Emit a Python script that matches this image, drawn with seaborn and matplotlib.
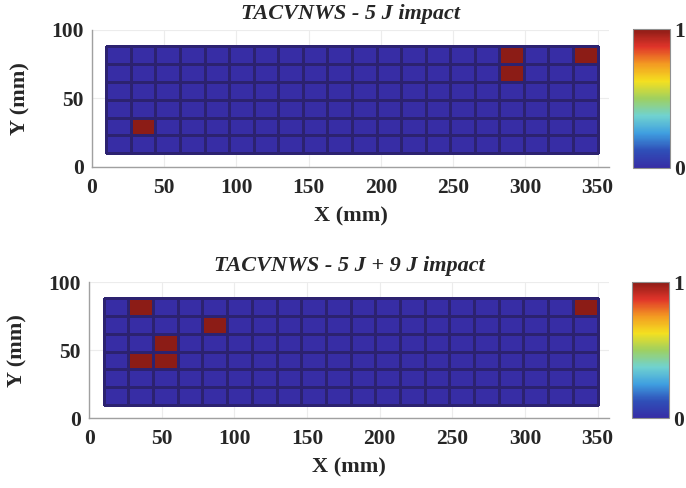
import numpy as np
import matplotlib
matplotlib.use("Agg")
import matplotlib.pyplot as plt
import seaborn as sns

# grid of the panel (mm)
x_edges = [10, 27, 44, 61, 78, 95, 112, 129, 146, 163, 180, 197, 214, 231,
           248, 265, 282, 299, 316, 333, 350]
y_edges = [10, 23, 36, 49, 62, 75, 88]

# damage state per cell, rows listed from top (y=88) to bottom (y=10)
damage_5J = [
    [0, 0, 0, 0, 0, 0, 0, 0, 0, 0, 0, 0, 0, 0, 0, 0, 1, 0, 0, 1],
    [0, 0, 0, 0, 0, 0, 0, 0, 0, 0, 0, 0, 0, 0, 0, 0, 1, 0, 0, 0],
    [0, 0, 0, 0, 0, 0, 0, 0, 0, 0, 0, 0, 0, 0, 0, 0, 0, 0, 0, 0],
    [0, 0, 0, 0, 0, 0, 0, 0, 0, 0, 0, 0, 0, 0, 0, 0, 0, 0, 0, 0],
    [0, 1, 0, 0, 0, 0, 0, 0, 0, 0, 0, 0, 0, 0, 0, 0, 0, 0, 0, 0],
    [0, 0, 0, 0, 0, 0, 0, 0, 0, 0, 0, 0, 0, 0, 0, 0, 0, 0, 0, 0],
]
damage_5J_9J = [
    [0, 1, 0, 0, 0, 0, 0, 0, 0, 0, 0, 0, 0, 0, 0, 0, 0, 0, 0, 1],
    [0, 0, 0, 0, 1, 0, 0, 0, 0, 0, 0, 0, 0, 0, 0, 0, 0, 0, 0, 0],
    [0, 0, 1, 0, 0, 0, 0, 0, 0, 0, 0, 0, 0, 0, 0, 0, 0, 0, 0, 0],
    [0, 1, 1, 0, 0, 0, 0, 0, 0, 0, 0, 0, 0, 0, 0, 0, 0, 0, 0, 0],
    [0, 0, 0, 0, 0, 0, 0, 0, 0, 0, 0, 0, 0, 0, 0, 0, 0, 0, 0, 0],
    [0, 0, 0, 0, 0, 0, 0, 0, 0, 0, 0, 0, 0, 0, 0, 0, 0, 0, 0, 0],
]
titles = ["TACVNWS - 5 J impact", "TACVNWS - 5 J + 9 J impact"]
x_ticks = [0, 50, 100, 150, 200, 250, 300, 350]
y_ticks = [0, 50, 100]

sns.set_style("white")
plt.rcParams['font.family'] = ['Liberation Serif', 'DejaVu Serif']

# jet-like colormap, washed like the original
cmap = sns.blend_palette(["#372da5", "#2f4fb8", "#3f9fe0", "#70d2d0", "#9fd060",
                          "#f4e020", "#f39a22", "#e0342a", "#8c1c16"], as_cmap=True)

fig = plt.figure(figsize=(6.86, 4.88), dpi=100)
axes_pos = [[0.134, 0.658, 0.754, 0.281], [0.130, 0.143, 0.758, 0.279]]
cbar_pos = [[0.923, 0.656, 0.054, 0.284], [0.921, 0.143, 0.054, 0.279]]

for i, data in enumerate([damage_5J, damage_5J_9J]):
    ax = fig.add_axes(axes_pos[i])
    z = np.array(data)[::-1]
    mesh = ax.pcolormesh(x_edges, y_edges, z, cmap=cmap, vmin=0, vmax=1,
                         edgecolor="#2c2270", linewidth=1.0)
    ax.set_xlim(0, 358)
    ax.set_ylim(0, 100)
    ax.set_xticks(x_ticks)
    ax.set_yticks(y_ticks)
    ax.grid(True, color="#ececec", linewidth=0.8)
    ax.set_axisbelow(True)
    for s in ["top", "right"]:
        ax.spines[s].set_visible(False)
    for s in ["left", "bottom"]:
        ax.spines[s].set_color("#a0a0a0")
        ax.spines[s].set_linewidth(1.0)
    ax.tick_params(direction="in", length=3, color="#a0a0a0", width=0.8,
                   labelsize=15.5)
    ax.tick_params(axis="x", pad=8)
    ax.tick_params(axis="y", pad=6)
    for lab in ax.get_xticklabels() + ax.get_yticklabels():
        lab.set_fontweight("bold")
    ax.set_xlabel("X (mm)", fontsize=16, fontweight="bold", labelpad=6)
    ax.set_ylabel("Y (mm)", fontsize=16, fontweight="bold", labelpad=15)
    ax.set_title(titles[i], fontsize=16, fontweight="bold", style="italic", pad=8)

    cax = fig.add_axes(cbar_pos[i])
    cb = fig.colorbar(mesh, cax=cax, ticks=[0, 1])
    cb.outline.set_edgecolor("#909090")
    cb.outline.set_linewidth(0.8)
    cax.tick_params(length=0, labelsize=15.5, pad=3)
    for lab in cax.get_yticklabels():
        lab.set_fontweight("bold")

fig.savefig("out.png", dpi=100)
